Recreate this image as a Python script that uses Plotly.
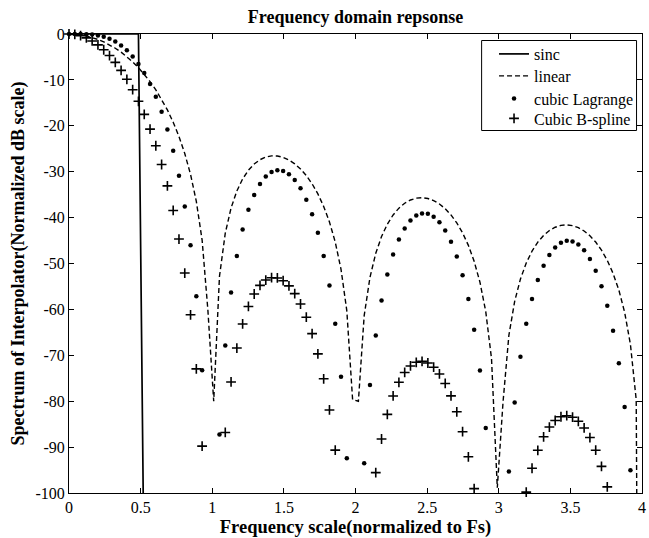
import plotly.graph_objects as go

# Normalized frequency grid
FREQ = [0.0000, 0.0404, 0.0808, 0.1212, 0.1616, 0.2020, 0.2424, 0.2828, 0.3232, 0.3636,
        0.4040, 0.4444, 0.4848, 0.5253, 0.5657, 0.6061, 0.6465, 0.6869, 0.7273, 0.7677,
        0.8081, 0.8485, 0.8889, 0.9293, 0.9697, 1.0101, 1.0505, 1.0909, 1.1313, 1.1717,
        1.2121, 1.2525, 1.2929, 1.3333, 1.3737, 1.4141, 1.4545, 1.4949, 1.5354, 1.5758,
        1.6162, 1.6566, 1.6970, 1.7374, 1.7778, 1.8182, 1.8586, 1.8990, 1.9394, 1.9798,
        2.0202, 2.0606, 2.1010, 2.1414, 2.1818, 2.2222, 2.2626, 2.3030, 2.3434, 2.3838,
        2.4242, 2.4646, 2.5051, 2.5455, 2.5859, 2.6263, 2.6667, 2.7071, 2.7475, 2.7879,
        2.8283, 2.8687, 2.9091, 2.9495, 2.9899, 3.0303, 3.0707, 3.1111, 3.1515, 3.1919,
        3.2323, 3.2727, 3.3131, 3.3535, 3.3939, 3.4343, 3.4747, 3.5152, 3.5556, 3.5960,
        3.6364, 3.6768, 3.7172, 3.7576, 3.7980, 3.8384, 3.8788, 3.9192, 3.9596, 4.0000]

SINC_DB = [0, 0, 0, 0, 0, 0, 0, 0, 0, 0, 0, 0, 0, -122]

LINEAR_DB = [0.0, -0.05, -0.19, -0.42, -0.75, -1.18, -1.71, -2.35, -3.10, -3.96,
             -4.94, -6.06, -7.33, -8.76, -10.36, -12.17, -14.22, -16.54, -19.22, -22.33,
             -26.04, -30.59, -36.48, -44.89, -60.23, -80.00, -52.80, -43.40, -37.91, -34.21,
             -31.58, -29.68, -28.32, -27.38, -26.81, -26.55, -26.57, -26.87, -27.44, -28.28,
             -29.41, -30.85, -32.64, -34.84, -37.56, -40.96, -45.32, -51.26, -60.31, -79.66,
             -80.01, -61.37, -53.02, -47.78, -44.12, -41.43, -39.43, -37.94, -36.87, -36.16,
             -35.77, -35.66, -35.84, -36.29, -37.03, -38.06, -39.42, -41.16, -43.33, -46.05,
             -49.52, -54.07, -60.44, -70.73, -98.86, -80.03, -65.65, -58.24, -53.38, -49.90,
             -47.31, -45.35, -43.88, -42.82, -42.10, -41.69, -41.58, -41.75, -42.19, -42.91,
             -43.96, -45.33, -47.10, -49.33, -52.15, -55.78, -60.63, -67.62, -79.69, -300.0]

LAGRANGE_DB = [0.0, 0.00, -0.01, -0.04, -0.13, -0.30, -0.59, -1.03, -1.65, -2.48,
               -3.54, -4.90, -6.54, -8.52, -10.88, -13.68, -16.95, -20.82, -25.41, -30.90,
               -37.60, -46.01, -57.11, -73.28, -103.33, -142.26, -87.25, -67.89, -56.33, -48.39,
               -42.61, -38.28, -35.05, -32.69, -31.06, -30.07, -29.67, -29.83, -30.53, -31.79,
               -33.62, -36.09, -39.27, -43.29, -48.35, -54.77, -63.14, -74.65, -92.41, -130.76,
               -131.13, -93.50, -76.48, -65.69, -58.05, -52.37, -48.05, -44.78, -42.35, -40.64,
               -39.56, -39.08, -39.16, -39.79, -41.00, -42.80, -45.26, -48.47, -52.56, -57.76,
               -64.45, -73.31, -85.82, -106.16, -162.20, -124.29, -95.31, -80.27, -70.33, -63.15,
               -57.74, -53.61, -50.47, -48.13, -46.49, -45.48, -45.05, -45.18, -45.88, -47.13,
               -49.03, -51.59, -54.93, -59.20, -64.66, -71.74, -81.26, -95.05, -119.03, None]

BSPLINE_DB = [0.0, -0.09, -0.37, -0.84, -1.51, -2.37, -3.43, -4.70, -6.19, -7.92,
              -9.87, -12.13, -14.66, -17.51, -20.72, -24.35, -28.43, -33.09, -38.44, -44.67,
              -52.08, -61.18, -72.96, -89.78, -120.46, -160.01, -105.59, -86.81, -75.81, -68.42,
              -63.17, -59.36, -56.64, -54.77, -53.61, -53.09, -53.15, -53.75, -54.88, -56.57,
              -58.82, -61.70, -65.27, -69.68, -75.12, -81.91, -90.65, -102.52, -120.62, -159.32,
              -160.02, -122.73, -106.03, -95.57, -88.24, -82.87, -78.86, -75.88, -73.74, -72.32,
              -71.53, -71.33, -71.68, -72.59, -74.06, -76.13, -78.85, -82.31, -86.65, -92.11,
              -99.04, -108.14, -120.89, -141.46, -197.71, -160.05, -131.31, -116.48, -106.77, -99.80,
              -94.61, -90.70, -87.76, -85.63, -84.20, -83.39, -83.16, -83.49, -84.38, -85.83,
              -87.92, -90.67, -94.19, -98.66, -104.30, -111.56, -121.26, -135.23, -159.39, None]

assert len(FREQ) == 100 and len(LINEAR_DB) == 100
assert len(LAGRANGE_DB) == 100 and len(BSPLINE_DB) == 100

SERIES_NAMES = ["sinc", "linear", "cubic Lagrange", "Cubic B-spline"]

X_TICKS = [0, 0.5, 1, 1.5, 2, 2.5, 3, 3.5, 4]
X_TICKTEXT = ["0", "0.5", "1", "1.5", "2", "2.5", "3", "3.5", "4"]
Y_TICKS = [-100, -90, -80, -70, -60, -50, -40, -30, -20, -10, 0]
Y_TICKTEXT = ["-100", "-90", "-80", "-70", "-60", "-50", "-40", "-30", "-20", "-10", "0"]

Y_MIN, Y_MAX = -100, 0

# ---- layout geometry (pixels) ----
W, H = 649, 538
ML, MR, MT, MB = 69, 3, 34, 45
PW, PH = W - ML - MR, H - MT - MB


def px_to_paper_x(px):
    return (px - ML) / PW


def px_to_paper_y(py):
    return 1 - (py - MT) / PH


def visible(vals):
    # MATLAB hides markers whose data point lies outside the axes
    return [v if (v is not None and Y_MIN <= v <= Y_MAX + 0.5) else None for v in vals]


FONT = "Liberation Serif, Times New Roman, serif"

fig = go.Figure()
fig.add_trace(go.Scatter(x=FREQ[:len(SINC_DB)], y=SINC_DB, mode="lines", name=SERIES_NAMES[0],
                         legend="legend",
                         line=dict(color="black", width=1.7)))
fig.add_trace(go.Scatter(x=FREQ, y=LINEAR_DB, mode="lines", name=SERIES_NAMES[1],
                         legend="legend2",
                         line=dict(color="black", width=1.4, dash="5px,3px")))
fig.add_trace(go.Scatter(x=FREQ, y=visible(LAGRANGE_DB), mode="markers", name=SERIES_NAMES[2],
                         legend="legend3", cliponaxis=False,
                         marker=dict(symbol="circle", size=4.5, color="black")))
fig.add_trace(go.Scatter(x=FREQ, y=visible(BSPLINE_DB), mode="markers", name=SERIES_NAMES[3],
                         legend="legend4", cliponaxis=False,
                         marker=dict(symbol="cross-thin", size=7, color="black",
                                     line=dict(width=1.6, color="black"))))

axis_common = dict(showgrid=False, zeroline=False, showline=True, linecolor="black",
                   linewidth=1, mirror="ticks", ticks="inside", ticklen=5, tickcolor="black",
                   tickfont=dict(family=FONT, size=16, color="black"))

legend_font = dict(family=FONT, size=16, color="black")
legend_left_px = 497
legend_rows_px = [54, 76, 98.5, 118.5]


def legend_cfg(py):
    return dict(x=px_to_paper_x(legend_left_px), xanchor="left",
                y=px_to_paper_y(py), yanchor="middle",
                bgcolor="rgba(0,0,0,0)", borderwidth=0, font=legend_font)


fig.update_layout(
    width=W, height=H,
    margin=dict(l=ML, r=MR, t=MT, b=MB),
    paper_bgcolor="white", plot_bgcolor="white",
    font=dict(family=FONT, color="black"),
    title=dict(text="Frequency domain repsonse", x=0.5, xref="paper", xanchor="center",
               y=1 - 17 / H, yref="container", yanchor="middle",
               font=dict(family=FONT, size=18, color="black", weight="bold")),
    xaxis=dict(range=[0, 4], tickvals=X_TICKS, ticktext=X_TICKTEXT,
               ticklabeloverflow="allow",
               title=dict(text="Frequency scale(normalized to Fs)", standoff=5,
                          font=dict(family=FONT, size=18.5, color="black", weight="bold")),
               **axis_common),
    yaxis=dict(range=[Y_MIN, Y_MAX], tickvals=Y_TICKS, ticktext=Y_TICKTEXT,
               title=dict(text="Spectrum of Interpolator(Normalized dB scale)", standoff=6,
                          font=dict(family=FONT, size=18, color="black", weight="bold")),
               **axis_common),
    legend=legend_cfg(legend_rows_px[0]),
    legend2=legend_cfg(legend_rows_px[1]),
    legend3=legend_cfg(legend_rows_px[2]),
    legend4=legend_cfg(legend_rows_px[3]),
    showlegend=True,
    shapes=[dict(type="rect", xref="paper", yref="paper",
                 x0=px_to_paper_x(484.5), x1=px_to_paper_x(640.5),
                 y0=px_to_paper_y(130.5), y1=px_to_paper_y(40.5),
                 line=dict(color="black", width=1), fillcolor="white", layer="above")],
)

fig.write_html("out.html")
